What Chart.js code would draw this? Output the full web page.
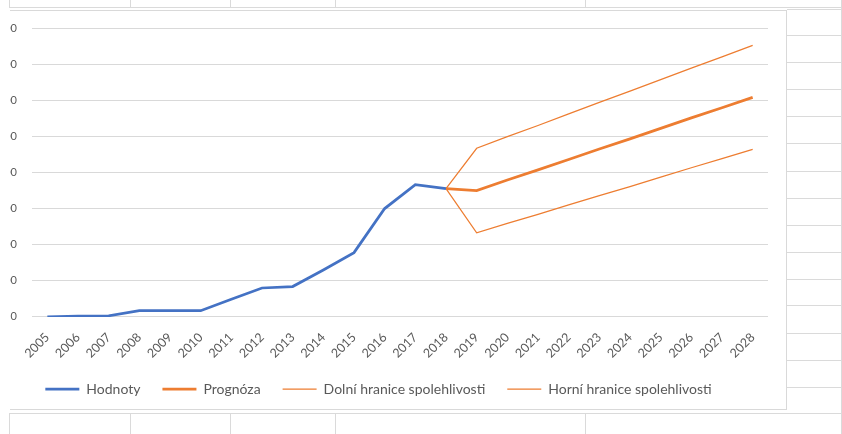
<!DOCTYPE html>
<html>
<head>
<meta charset="utf-8">
<title>Prognóza</title>
<script src="https://cdn.jsdelivr.net/npm/chart.js@4.4.1/dist/chart.umd.min.js"></script>
<style>
  html, body { margin: 0; padding: 0; background: #fff; }
  body { width: 842px; height: 434px; position: relative; overflow: hidden; }
  .h { position: absolute; height: 1px; background: #dadada; }
  .v { position: absolute; width: 1px; background: #dadada; }
  #frame { position: absolute; left: 10px; top: 10px; width: 777px; height: 400px; overflow: hidden;
           border: 1px solid #d9d9d9; border-left: none; box-sizing: border-box; background: #fff; }
  #wrap { position: absolute; left: -40px; top: 0; width: 817px; height: 398px; }
</style>
</head>
<body>
<div id="sheet"></div>
<div id="frame"><div id="wrap"><canvas id="myChart" width="817" height="398"></canvas></div></div>
<script>
// data (values in hundreds, axis labels are cut off in the original)
const years = ['2005', '2006', '2007', '2008', '2009', '2010', '2011', '2012', '2013', '2014', '2015', '2016',
  '2017', '2018', '2019', '2020', '2021', '2022', '2023', '2024', '2025', '2026', '2027', '2028'];
const hodnoty = [0, 2, 3, 17, 17, 17, 49, 80, 84, 130, 178, 300, 366, 355];
// 2018..2028
const prognoza = [355, 350, 379, 407, 436, 465, 493, 522, 551, 579, 608];
const dolni = [355, 233, 259, 284, 310, 336, 361, 387, 413, 438, 464];
const horni = [355, 467, 499, 530, 562, 594, 625, 657, 689, 720, 752];
const yMax = 800;
const yStep = 100;

// spreadsheet cells behind the chart
const sheet = document.getElementById('sheet');
function line(cls, x, y, len) {
  const d = document.createElement('div');
  d.className = cls;
  d.style.left = x + 'px';
  d.style.top = y + 'px';
  if (cls === 'h') d.style.width = len + 'px'; else d.style.height = len + 'px';
  sheet.appendChild(d);
}
line('h', 9, 7, 833);
line('h', 9, 413, 833);
[9, 130, 230, 335, 585].forEach(x => { line('v', x, 0, 7); line('v', x, 413, 21); });
[9, 35, 62, 89, 116, 143, 171, 198, 225, 252, 279, 305, 333, 360, 387].forEach(y => line('h', 787, y, 55));
line('v', 841, 0, 434);

const orange = '#ED7D31';
const blue = '#4472C4';
const txt = '#595959';
const lead = Array(hodnoty.length - 1).fill(null);

const ctx = document.getElementById('myChart');
new Chart(ctx, {
  type: 'line',
  data: {
    labels: years,
    datasets: [{
      label: 'Hodnoty',
      data: hodnoty,
      borderColor: blue,
      backgroundColor: blue,
      borderWidth: 2.75,
      pointRadius: 0,
      fill: false
    }, {
      label: 'Prognóza',
      data: lead.concat(prognoza),
      borderColor: orange,
      backgroundColor: orange,
      borderWidth: 2.75,
      pointRadius: 0,
      fill: false
    }, {
      label: 'Dolní hranice spolehlivosti',
      data: lead.concat(dolni),
      borderColor: orange,
      backgroundColor: orange,
      borderWidth: 1.25,
      pointRadius: 0,
      fill: false
    }, {
      label: 'Horní hranice spolehlivosti',
      data: lead.concat(horni),
      borderColor: orange,
      backgroundColor: orange,
      borderWidth: 1.25,
      pointRadius: 0,
      fill: false
    }]
  },
  options: {
    responsive: false,
    animation: false,
    layout: { padding: { left: 0, right: 0, top: 17, bottom: 3 } },
    plugins: {
      tooltip: { enabled: false },
      legend: {
        position: 'bottom',
        labels: {
          usePointStyle: true,
          pointStyle: 'line',
          pointStyleWidth: 34,
          boxHeight: 10,
          padding: 22,
          color: txt,
          font: { family: 'Lato', size: 14 }
        }
      }
    },
    scales: {
      x: {
        offset: true,
        grid: { display: false },
        border: { display: false },
        ticks: { color: txt, font: { family: 'Lato', size: 12.5 }, minRotation: 45, maxRotation: 45, autoSkip: false, padding: 5 },
        afterFit: (s) => { s.height -= 6; }
      },
      y: {
        min: 0,
        max: yMax,
        ticks: { stepSize: yStep, padding: 15, color: txt, font: { family: 'Lato', size: 11 } },
        grid: { color: '#d9d9d9', drawTicks: false },
        border: { display: false },
        afterFit: (s) => { s.width = 62; s.paddingTop = 0; s.paddingBottom = 0; }
      },
      // empty right margin of the plot area
      yRight: {
        position: 'right',
        min: 0,
        max: yMax,
        grid: { display: false },
        border: { display: false },
        ticks: { display: false },
        afterFit: (s) => { s.width = 19; s.paddingTop = 0; s.paddingBottom = 0; }
      }
    }
  }
});
</script>
</body>
</html>
